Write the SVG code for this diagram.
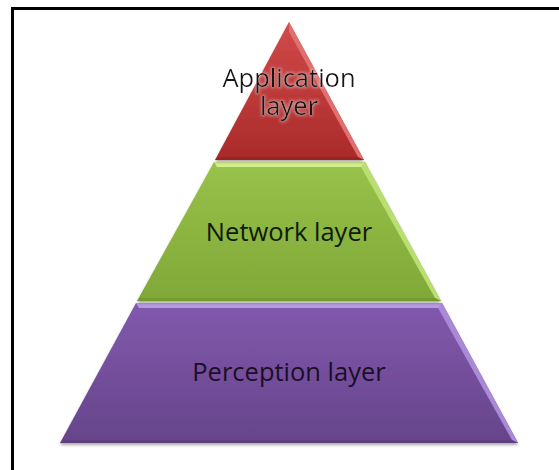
<svg xmlns="http://www.w3.org/2000/svg" width="559" height="470" viewBox="0 0 559 470">
  <defs>
    <linearGradient id="gRed" x1="0" y1="0" x2="0" y2="1">
      <stop offset="0" stop-color="#d24a4a"/>
      <stop offset="1" stop-color="#a92a2a"/>
    </linearGradient>
    <linearGradient id="gGreen" x1="0" y1="0" x2="0" y2="1">
      <stop offset="0" stop-color="#98c24a"/>
      <stop offset="1" stop-color="#7fa838"/>
    </linearGradient>
    <linearGradient id="gPurple" x1="0" y1="0" x2="0" y2="1">
      <stop offset="0" stop-color="#8259ae"/>
      <stop offset="1" stop-color="#664489"/>
    </linearGradient>
    <filter id="shadow" x="-10%" y="-10%" width="120%" height="130%">
      <feGaussianBlur in="SourceAlpha" stdDeviation="1.5"/>
      <feOffset dx="0" dy="2" result="b"/>
      <feComponentTransfer><feFuncA type="linear" slope="0.35"/></feComponentTransfer>
      <feMerge><feMergeNode/><feMergeNode in="SourceGraphic"/></feMerge>
    </filter>
    <!-- soft white halo behind label text -->
    <filter id="glow" x="-20%" y="-40%" width="140%" height="180%">
      <feMorphology in="SourceAlpha" operator="dilate" radius="1" result="d"/>
      <feGaussianBlur in="d" stdDeviation="1.5" result="bl"/>
      <feFlood flood-color="#ffffff" flood-opacity="0.4" result="w"/>
      <feComposite in="w" in2="bl" operator="in" result="halo"/>
      <feMerge><feMergeNode in="halo"/><feMergeNode in="SourceGraphic"/></feMerge>
    </filter>
  </defs>
  <style>
    .label { font-family: "Open Sans", "Liberation Sans", sans-serif; font-size: 25.5px; fill: #141414; text-anchor: middle; }
    .frame { fill: none; stroke: #000; stroke-width: 3; }
  </style>

  <rect width="559" height="470" fill="#ffffff"/>
  <!-- outer frame (top and left edges) -->
  <path class="frame" d="M12.5,470 V8.5 H559"/>

  <!-- base layer -->
  <g id="perception">
    <polygon points="136,303 442,303 518,443 60,443" fill="url(#gPurple)" filter="url(#shadow)"/>
    <polygon points="136,303 442,303 439,308 139,308" fill="#b79ae0"/>
    <polygon points="442,303 518,443 512,440 438,308" fill="#a98ad6"/>
    <polygon points="60,443 518,443 512,440 64,440" fill="#5b3c7c" opacity="0.6"/>
    <text class="label" x="289" y="381" fill="#1a0f26" style="fill:#1a0f26">Perception layer</text>
  </g>

  <!-- middle layer -->
  <g id="network">
    <polygon points="214,162 365,162 441,301 137,301" fill="url(#gGreen)" filter="url(#shadow)"/>
    <polygon points="214,162 365,162 362,167 217,167" fill="#d3ee8c"/>
    <polygon points="365,162 441,301 435,298 361,167" fill="#b9de72"/>
    <polygon points="137,301 441,301 435,298 140,298" fill="#6b8f2c" opacity="0.6"/>
    <text class="label" x="289" y="241" style="fill:#101a08">Network layer</text>
  </g>

  <!-- top layer -->
  <g id="application">
    <polygon points="289,22 364,160 215,160" fill="url(#gRed)" filter="url(#shadow)"/>
    <polygon points="289,22 364,160 358,157 289,32" fill="#e07070"/>
    <polygon points="215,160 364,160 358,157 219,157" fill="#8e2222" opacity="0.6"/>
    <text class="label" filter="url(#glow)"><tspan x="289" y="87">Application</tspan><tspan x="289" dy="28">layer</tspan></text>
  </g>
</svg>
